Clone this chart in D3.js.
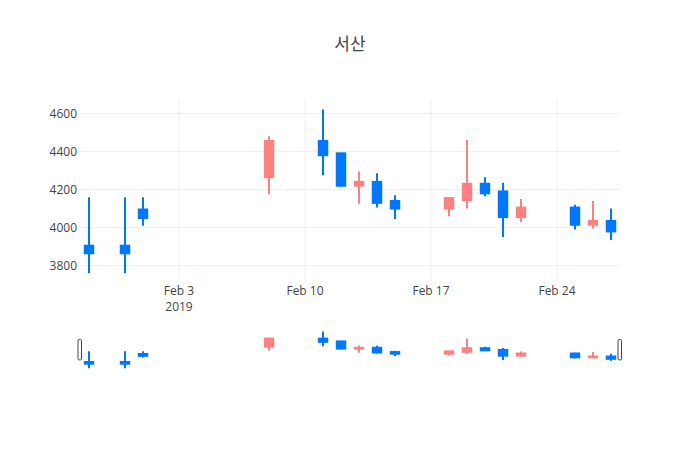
<!DOCTYPE html>
<html>
<head>
<meta charset="utf-8">
<script src="https://d3js.org/d3.v7.min.js"></script>
<style>
  body { margin: 0; background: #fff; }
  text { font-family: "Open Sans", "Noto Sans CJK KR", verdana, arial, sans-serif; fill: #444; }
</style>
</head>
<body>
<div id="chart"></div>
<script>
// Candle data
var dates = ["2019-01-29", "2019-01-31", "2019-02-01", "2019-02-08", "2019-02-11",
  "2019-02-12", "2019-02-13", "2019-02-14", "2019-02-15", "2019-02-18", "2019-02-19",
  "2019-02-20", "2019-02-21", "2019-02-22", "2019-02-25", "2019-02-26", "2019-02-27"];
var openVals  = [3905, 3905, 4095, 4265, 4455, 4390, 4220, 4240, 4140, 4100, 4145, 4230, 4190, 4055, 4105, 4015, 4035];
var highVals  = [4160, 4160, 4160, 4480, 4620, 4390, 4295, 4285, 4170, 4155, 4460, 4265, 4235, 4150, 4120, 4140, 4100];
var lowVals   = [3760, 3760, 4010, 4175, 4275, 4215, 4125, 4105, 4045, 4060, 4100, 4165, 3950, 4030, 3990, 3995, 3935];
var closeVals = [3865, 3865, 4050, 4455, 4380, 4220, 4240, 4130, 4100, 4155, 4230, 4180, 4055, 4105, 4015, 4035, 3980];

// Axis ranges and ticks
var xRange = ["2019-01-28T12:00:00Z", "2019-02-27T12:00:00Z"];
var yRange = [3717, 4670];
var xTicks = ["2019-02-03", "2019-02-10", "2019-02-17", "2019-02-24"];
var yTicks = [3800, 4000, 4200, 4400, 4600];
var chartTitle = "서산";

var upColor = "#ff8080";
var downColor = "#0077ff";

var svgWidth = 700;
var svgHeight = 450;

var margin = { left: 80, right: 80, top: 100 };
var mainBottom = 281.5;            // bottom of main plot
var slider = { top: 329.5, bottom: 370 };

var svg = d3.select("#chart")
  .append("svg")
  .attr("width", svgWidth)
  .attr("height", svgHeight);

var parseDay = d3.utcParse("%Y-%m-%d");

var candles = dates.map(function (d, i) {
  return {
    date: parseDay(d),
    open: openVals[i],
    high: highVals[i],
    low: lowVals[i],
    close: closeVals[i]
  };
});

// scales
var xScale = d3.scaleUtc()
  .domain(xRange.map(function (d) { return new Date(d); }))
  .range([margin.left, svgWidth - margin.right]);

var yScale = d3.scaleLinear()
  .domain(yRange)
  .range([mainBottom, margin.top]);

var ySlider = d3.scaleLinear()
  .domain(yRange)
  .range([slider.bottom, slider.top]);

var dayWidth = xScale(d3.utcDay.offset(candles[0].date, 1)) - xScale(candles[0].date);
var bodyWidth = dayWidth * 0.47;

// Title
svg.append("text")
  .attr("x", svgWidth / 2)
  .attr("y", 50)
  .attr("text-anchor", "middle")
  .style("font-size", "17px")
  .text(chartTitle);

// Gridlines
svg.append("g")
  .selectAll("line")
  .data(yTicks)
  .enter()
  .append("line")
  .attr("x1", margin.left)
  .attr("x2", svgWidth - margin.right)
  .attr("y1", d => yScale(d))
  .attr("y2", d => yScale(d))
  .attr("stroke", "#eee")
  .attr("stroke-width", 1);

svg.append("g")
  .selectAll("line")
  .data(xTicks)
  .enter()
  .append("line")
  .attr("x1", d => xScale(parseDay(d)))
  .attr("x2", d => xScale(parseDay(d)))
  .attr("y1", margin.top)
  .attr("y2", mainBottom)
  .attr("stroke", "#eee")
  .attr("stroke-width", 1);

// Y axis labels
var leftAxis = d3.axisLeft(yScale)
  .tickValues(yTicks)
  .tickFormat(d3.format("d"))
  .tickSize(0)
  .tickPadding(3);

var yAxisG = svg.append("g")
  .attr("transform", `translate(${margin.left}, 0)`)
  .call(leftAxis);
yAxisG.select(".domain").remove();
yAxisG.selectAll("text")
  .style("font-size", "12px")
  .attr("fill", "#444");

// X axis labels (first one gets the year on a second line)
var xAxisG = svg.append("g");
xTicks.forEach(function (t, i) {
  var label = xAxisG.append("text")
    .attr("x", xScale(parseDay(t)))
    .attr("y", mainBottom + 13.5)
    .attr("text-anchor", "middle")
    .style("font-size", "12px")
    .text(d3.utcFormat("%b %-d")(parseDay(t)));
  if (i === 0) {
    label.append("tspan")
      .attr("x", xScale(parseDay(t)))
      .attr("dy", 15.6)
      .text(d3.utcFormat("%Y")(parseDay(t)));
  }
});

// Candles, drawn into main plot and range slider
function drawCandles(group, y) {
  var g = group.selectAll("g.candle")
    .data(candles)
    .enter()
    .append("g")
    .attr("class", "candle");

  var colorOf = d => d.close > d.open ? upColor : downColor;

  g.append("line")
    .attr("x1", d => xScale(d.date))
    .attr("x2", d => xScale(d.date))
    .attr("y1", d => y(d.high))
    .attr("y2", d => y(d.low))
    .attr("stroke", colorOf)
    .attr("stroke-width", 2);

  g.append("rect")
    .attr("x", d => xScale(d.date) - bodyWidth / 2)
    .attr("width", bodyWidth)
    .attr("y", d => y(Math.max(d.open, d.close)))
    .attr("height", d => Math.abs(y(d.open) - y(d.close)))
    .attr("fill", colorOf)
    .attr("stroke", colorOf)
    .attr("stroke-width", 2);
}

var mainGroup = svg.append("g");
drawCandles(mainGroup, yScale);

var sliderGroup = svg.append("g");
drawCandles(sliderGroup, ySlider);

// range slider handles
var handleH = (slider.bottom - slider.top) / 2;
svg.append("g")
  .selectAll("rect")
  .data(xScale.range())
  .enter()
  .append("rect")
  .attr("x", d => d - 2)
  .attr("y", slider.top + handleH / 2)
  .attr("width", 3.5)
  .attr("height", handleH)
  .attr("rx", 1)
  .attr("fill", "#fff")
  .attr("stroke", "#444")
  .attr("stroke-width", 1);
</script>
</body>
</html>
